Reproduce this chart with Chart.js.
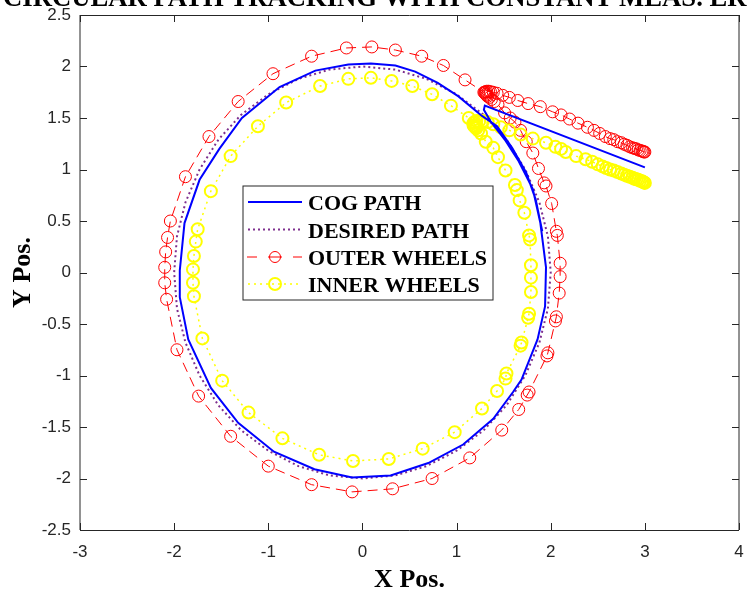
<!DOCTYPE html>
<html>
<head>
<meta charset="utf-8">
<script src="https://cdn.jsdelivr.net/npm/chart.js@4.4.0/dist/chart.umd.min.js"></script>
<style>
  html, body { margin: 0; padding: 0; background: #ffffff; }
  canvas { display: block; }
</style>
</head>
<body>
<canvas id="c" width="747" height="595"></canvas>
<script>
// Axis ticks
const xTickValues = [-3, -2, -1, 0, 1, 2, 3, 4];
const xTickLabels = ['-3', '-2', '-1', '0', '1', '2', '3', '4'];
const yTickValues = [-2.5, -2, -1.5, -1, -0.5, 0, 0.5, 1, 1.5, 2, 2.5];
const yTickLabels = ['-2.5', '-2', '-1.5', '-1', '-0.5', '0', '0.5', '1', '1.5', '2', '2.5'];

// Centre-of-gravity path
const cogX = [3.00, 1.30, 1.29, 1.36, 1.52, 1.66, 1.81, 1.89, 1.95, 1.94, 1.86, 1.69, 1.60, 1.39, 1.07, 0.70, 0.30, -0.11, -0.51, -0.94, -1.32, -1.61, -1.85, -1.94, -1.94, -1.89, -1.73, -1.52, -1.28, -0.88, -0.50, -0.15, 0.09, 0.35, 0.56, 0.80, 1.02, 1.27, 1.43, 1.59, 1.74, 1.84, 1.91];
const cogY = [1.02, 1.62, 1.58, 1.47, 1.28, 1.08, 0.81, 0.48, 0.05, -0.33, -0.65, -1.04, -1.16, -1.42, -1.67, -1.85, -1.97, -1.99, -1.91, -1.74, -1.46, -1.12, -0.65, -0.24, 0.02, 0.48, 0.90, 1.20, 1.50, 1.80, 1.96, 2.02, 2.03, 2.01, 1.95, 1.84, 1.71, 1.52, 1.42, 1.21, 0.97, 0.71, 0.40];

// Desired circular path (radius 2), clockwise
const desiredX = [1.29, 1.53, 1.73, 1.88, 1.97, 2.00, 1.97, 1.88, 1.73, 1.53, 1.29, 1.00, 0.68, 0.35, 0.00, -0.35, -0.68, -1.00, -1.29, -1.53, -1.73, -1.88, -1.97, -2.00, -1.97, -1.88, -1.73, -1.53, -1.29, -1.00, -0.68, -0.35, 0.00, 0.35, 0.68, 1.00, 1.29];
const desiredY = [1.53, 1.29, 1.00, 0.68, 0.35, 0.00, -0.35, -0.68, -1.00, -1.29, -1.53, -1.73, -1.88, -1.97, -2.00, -1.97, -1.88, -1.73, -1.53, -1.29, -1.00, -0.68, -0.35, 0.00, 0.35, 0.68, 1.00, 1.29, 1.53, 1.73, 1.88, 1.97, 2.00, 1.97, 1.88, 1.73, 1.53];

// Outer wheel positions
const outerX = [3.00, 2.99, 2.98, 2.97, 2.95, 2.93, 2.91, 2.89, 2.87, 2.84, 2.81, 2.78, 2.75, 2.71, 2.67, 2.63, 2.58, 2.52, 2.46, 2.39, 2.29, 2.20, 2.11, 2.02, 1.89, 1.76, 1.65, 1.56, 1.49,
  1.43, 1.39, 1.36, 1.34, 1.32, 1.31, 1.30, 1.30, 1.31, 1.32, 1.33, 1.35, 1.37, 1.40,
  1.44, 1.51, 1.57, 1.62, 1.68, 1.74, 1.81, 1.87, 1.93, 1.95, 2.01, 2.06, 2.07, 2.10, 2.10, 2.09, 2.06, 2.05, 1.97, 1.96, 1.77, 1.75, 1.66, 1.48, 1.14, 0.74, 0.32, -0.11, -0.54, -1.00, -1.40, -1.74, -1.97, -2.08, -2.10, -2.10, -2.09, -2.07, -2.04, -1.88, -1.63, -1.32, -0.95, -0.54, -0.17, 0.10, 0.35, 0.63, 0.86, 1.09, 1.29];
const outerY = [1.17, 1.17, 1.175, 1.18, 1.185, 1.19, 1.20, 1.205, 1.21, 1.22, 1.235, 1.245, 1.26, 1.27, 1.29, 1.30, 1.32, 1.35, 1.38, 1.41, 1.45, 1.49, 1.53, 1.56, 1.61, 1.64, 1.67, 1.70, 1.72,
  1.74, 1.75, 1.755, 1.76, 1.76, 1.755, 1.75, 1.74, 1.73, 1.72, 1.71, 1.70, 1.68, 1.66,
  1.63, 1.55, 1.50, 1.46, 1.38, 1.27, 1.16, 1.01, 0.87, 0.84, 0.67, 0.40, 0.36, 0.09, -0.04, -0.20, -0.43, -0.47, -0.78, -0.81, -1.16, -1.19, -1.33, -1.53, -1.80, -2.00, -2.10, -2.13, -2.06, -1.88, -1.59, -1.20, -0.75, -0.26, -0.10, 0.05, 0.20, 0.34, 0.50, 0.93, 1.32, 1.66, 1.93, 2.10, 2.18, 2.19, 2.16, 2.10, 2.01, 1.87, 1.75];

// Inner wheel positions
const innerX = [3.00, 2.99, 2.98, 2.97, 2.95, 2.93, 2.91, 2.89, 2.87, 2.84, 2.81, 2.78, 2.75, 2.71, 2.67, 2.63, 2.59, 2.55, 2.50, 2.44, 2.37, 2.27, 2.16, 2.11, 2.05, 1.95, 1.81, 1.68, 1.56, 1.47, 1.39,
  1.33, 1.28, 1.24, 1.21, 1.19, 1.18, 1.18, 1.19, 1.20, 1.21, 1.23,
  1.26, 1.31, 1.39, 1.44, 1.52, 1.62, 1.64, 1.67, 1.72, 1.77, 1.78, 1.79, 1.79, 1.79, 1.77, 1.76, 1.69, 1.68, 1.53, 1.52, 1.43, 1.27, 0.98, 0.64, 0.28, -0.10, -0.46, -0.85, -1.21, -1.49, -1.70, -1.79, -1.80, -1.80, -1.79, -1.77, -1.75, -1.61, -1.40, -1.11, -0.81, -0.45, -0.15, 0.09, 0.31, 0.53, 0.74, 0.94, 1.13];
const innerY = [0.87, 0.875, 0.88, 0.885, 0.89, 0.90, 0.905, 0.91, 0.92, 0.93, 0.94, 0.95, 0.96, 0.975, 0.99, 1.00, 1.015, 1.03, 1.05, 1.075, 1.10, 1.13, 1.17, 1.20, 1.22, 1.26, 1.30, 1.34, 1.38, 1.41, 1.44,
  1.46, 1.47, 1.47, 1.47, 1.46, 1.45, 1.43, 1.42, 1.41, 1.40, 1.38,
  1.35, 1.27, 1.21, 1.12, 0.99, 0.85, 0.80, 0.70, 0.58, 0.36, 0.32, 0.07, -0.05, -0.19, -0.40, -0.44, -0.68, -0.71, -0.98, -1.03, -1.15, -1.32, -1.55, -1.71, -1.81, -1.83, -1.77, -1.61, -1.36, -1.05, -0.64, -0.23, -0.10, 0.03, 0.16, 0.30, 0.42, 0.79, 1.13, 1.42, 1.65, 1.81, 1.88, 1.89, 1.86, 1.81, 1.73, 1.62, 1.50];

const seriesNames = ['COG PATH', 'DESIRED PATH', 'OUTER WHEELS', 'INNER WHEELS'];
const titleText = 'CIRCULAR PATH TRACKING WITH CONSTANT MEAS. ERROR';
const xTitle = 'X Pos.';
const yTitle = 'Y Pos.';

const pts = (xs, ys) => xs.map((x, i) => ({ x: x, y: ys[i] }));

const AXIS_COLOR = '#262626';
const SERIF = '"Liberation Serif", "Times New Roman", serif';
const SANS = '"Liberation Sans", Arial, Helvetica, sans-serif';

// Box, inward tick marks, title, axis titles and legend
const framePlugin = {
  id: 'frame',
  afterDatasetsDraw(chart) {
    const ctx = chart.ctx;
    const a = chart.chartArea;
    const xs = chart.scales.x, ys = chart.scales.y;
    const tl = 7;
    ctx.save();
    ctx.strokeStyle = AXIS_COLOR;
    ctx.lineWidth = 1;
    ctx.beginPath();
    ctx.moveTo(a.left, a.top + 0.5); ctx.lineTo(a.right, a.top + 0.5);
    ctx.moveTo(a.left, a.bottom + 0.5); ctx.lineTo(a.right, a.bottom + 0.5);
    ctx.moveTo(a.left, a.top); ctx.lineTo(a.left, a.bottom);
    ctx.moveTo(a.right, a.top); ctx.lineTo(a.right, a.bottom);
    xTickValues.forEach(v => {
      const px = Math.round(xs.getPixelForValue(v)) + 0.5;
      ctx.moveTo(px, a.bottom); ctx.lineTo(px, a.bottom - tl);
      ctx.moveTo(px, a.top); ctx.lineTo(px, a.top + tl);
    });
    yTickValues.forEach(v => {
      const py = Math.round(ys.getPixelForValue(v)) + 0.5;
      ctx.moveTo(a.left, py); ctx.lineTo(a.left + tl, py);
      ctx.moveTo(a.right, py); ctx.lineTo(a.right - tl, py);
    });
    ctx.stroke();
    ctx.restore();
  },
  afterDraw(chart) {
    const ctx = chart.ctx;
    const a = chart.chartArea;
    const ds = chart.data.datasets;
    ctx.save();
    ctx.fillStyle = '#000000';
    // title (partly above the canvas edge)
    ctx.font = 'bold 26.7px ' + SERIF;
    ctx.textAlign = 'left';
    ctx.textBaseline = 'alphabetic';
    ctx.fillText(titleText, 3, 6);
    // axis titles
    ctx.font = 'bold 26px ' + SERIF;
    ctx.textAlign = 'center';
    ctx.fillText(xTitle, (a.left + a.right) / 2, 587);
    ctx.save();
    ctx.translate(30, (a.top + a.bottom) / 2);
    ctx.rotate(-Math.PI / 2);
    ctx.fillText(yTitle, 0, 0);
    ctx.restore();

    // legend
    const bx = 243, by = 186, bw = 250, bh = 114;
    ctx.fillStyle = '#ffffff';
    ctx.fillRect(bx, by, bw, bh);
    ctx.strokeStyle = AXIS_COLOR;
    ctx.lineWidth = 1;
    ctx.strokeRect(bx, by, bw, bh);
    const rows = [202, 229.5, 257, 284];
    const x0 = 248, x1 = 302, xm = 275;
    ctx.font = 'bold 22px ' + SERIF;
    ctx.textAlign = 'left';
    ctx.textBaseline = 'alphabetic';
    rows.forEach((cy, i) => {
      const d = ds[i];
      ctx.save();
      ctx.strokeStyle = d.borderColor;
      ctx.lineWidth = d.borderWidth;
      ctx.setLineDash(d.borderDash || []);
      if (i === 2) {
        ctx.setLineDash([]);
        ctx.beginPath();
        ctx.moveTo(247, cy); ctx.lineTo(257, cy);
        ctx.moveTo(268, cy); ctx.lineTo(282, cy);
        ctx.moveTo(293, cy); ctx.lineTo(302, cy);
        ctx.stroke();
      } else {
        ctx.beginPath();
        ctx.moveTo(x0, cy); ctx.lineTo(x1, cy);
        ctx.stroke();
      }
      if (d.pointRadius > 0) {
        ctx.setLineDash([]);
        ctx.strokeStyle = d.pointBorderColor;
        ctx.lineWidth = d.pointBorderWidth;
        ctx.beginPath();
        ctx.arc(xm, cy, i === 2 ? 5.5 : 6, 0, Math.PI * 2);
        ctx.stroke();
      }
      ctx.restore();
      ctx.fillStyle = '#000000';
      ctx.fillText(d.label, 308, cy + 8);
    });
    ctx.restore();
  }
};

new Chart(document.getElementById('c'), {
  type: 'scatter',
  data: {
    datasets: [
      {
        label: seriesNames[0],
        data: pts(cogX, cogY),
        showLine: true,
        borderColor: '#0000ff',
        borderWidth: 2,
        pointRadius: 0,
        order: 0
      },
      {
        label: seriesNames[1],
        data: pts(desiredX, desiredY),
        showLine: true,
        borderColor: '#7e2f8e',
        borderWidth: 2,
        borderDash: [2, 3],
        pointRadius: 0,
        order: 3
      },
      {
        label: seriesNames[2],
        data: pts(outerX, outerY),
        showLine: true,
        borderColor: '#ff0000',
        borderWidth: 1,
        borderDash: [10, 6],
        pointRadius: 6,
        pointBorderWidth: 1,
        pointBorderColor: '#ff0000',
        pointBackgroundColor: 'rgba(0,0,0,0)',
        order: 2
      },
      {
        label: seriesNames[3],
        data: pts(innerX, innerY),
        showLine: true,
        borderColor: '#ffff00',
        borderWidth: 1.5,
        borderDash: [2, 4],
        pointRadius: 6,
        pointBorderWidth: 2,
        pointBorderColor: '#ffff00',
        pointBackgroundColor: 'rgba(0,0,0,0)',
        order: 1
      }
    ]
  },
  options: {
    responsive: false,
    animation: false,
    events: [],
    layout: { padding: { left: 0, top: 15, right: 1, bottom: 0 } },
    plugins: { legend: { display: false }, tooltip: { enabled: false }, title: { display: false } },
    scales: {
      x: {
        type: 'linear',
        min: -3, max: 4,
        grid: { display: false, drawTicks: false },
        border: { display: false },
        afterBuildTicks: s => { s.ticks = xTickValues.map(v => ({ value: v })); },
        afterFit: s => { s.height = 65; s.paddingLeft = 0; s.paddingRight = 0; },
        ticks: {
          padding: 12,
          color: AXIS_COLOR,
          font: { family: SANS, size: 17 },
          callback: (v, i) => xTickLabels[i]
        }
      },
      y: {
        type: 'linear',
        min: -2.5, max: 2.5,
        grid: { display: false, drawTicks: false },
        border: { display: false },
        afterBuildTicks: s => { s.ticks = yTickValues.map(v => ({ value: v })); },
        afterFit: s => { s.width = 80; s.paddingTop = 0; s.paddingBottom = 0; },
        ticks: {
          padding: 9,
          color: AXIS_COLOR,
          font: { family: SANS, size: 17 },
          callback: (v, i) => yTickLabels[i]
        }
      }
    }
  },
  plugins: [framePlugin]
});
</script>
</body>
</html>
